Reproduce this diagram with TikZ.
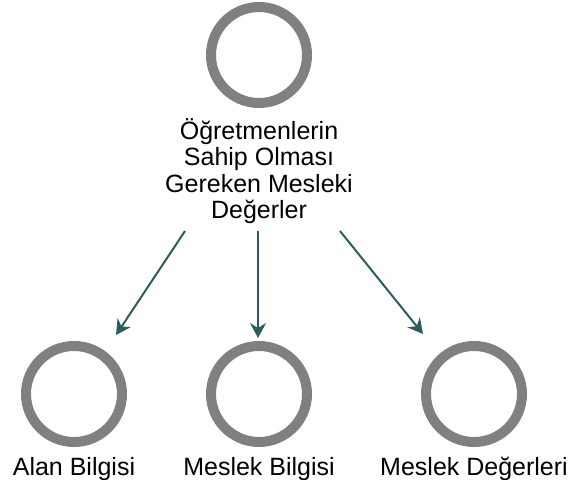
\documentclass[tikz,border=0pt]{standalone}
\usepackage{fontspec}
\setmainfont{Liberation Sans}
\usepackage{tikz}
\usetikzlibrary{arrows.meta,positioning}
\usepackage{xcolor}
\definecolor{ringgray}{RGB}{128,128,128}
\definecolor{linkteal}{RGB}{45,92,92}
\tikzstyle{ring} = [circle, draw=ringgray, line width=10pt, minimum size=96pt, inner sep=0pt]
\tikzstyle{lbl} = [inner sep=0pt, align=center, font=\fontsize{25pt}{26.5pt}\selectfont]
\tikzstyle{link} = [line width=2pt, -{Stealth[length=15pt,width=16pt,inset=5pt]}, color=linkteal]

\begin{document}
\begin{tikzpicture}[x=1pt, y=1pt]
\useasboundingbox (0,0) rectangle (569,479);
% Top concept
\node[ring] (top) at (259,424) {};
\node[lbl, below=10pt of top] (toplab) {Öğretmenlerin\\Sahip Olması\\Gereken Mesleki\\Değerler};

% Sub concepts
\node[ring] (alan) at (74,85) {};
\node[lbl, anchor=base, yshift=-28pt] (alanlab) at (alan.south) {Alan Bilgisi};

\node[ring] (bilgi) at (259,85) {};
\node[lbl, anchor=base, yshift=-28pt] (bilgilab) at (bilgi.south) {Meslek Bilgisi};

\node[ring] (deger) at (474,85) {};
\node[lbl, anchor=base, yshift=-28pt] (degerlab) at (deger.south) {Meslek Değerleri};

% Links
\draw[link] ([xshift=-74pt,yshift=-7pt]toplab.south) -- ([xshift=42pt,yshift=6pt]alan.north);
\draw[link] ([xshift=-1pt,yshift=-7pt]toplab.south) -- ([xshift=-1pt,yshift=3pt]bilgi.north);
\draw[link] ([xshift=81pt,yshift=-7pt]toplab.south) -- ([xshift=-51pt,yshift=7pt]deger.north);
\end{tikzpicture}
\end{document}
